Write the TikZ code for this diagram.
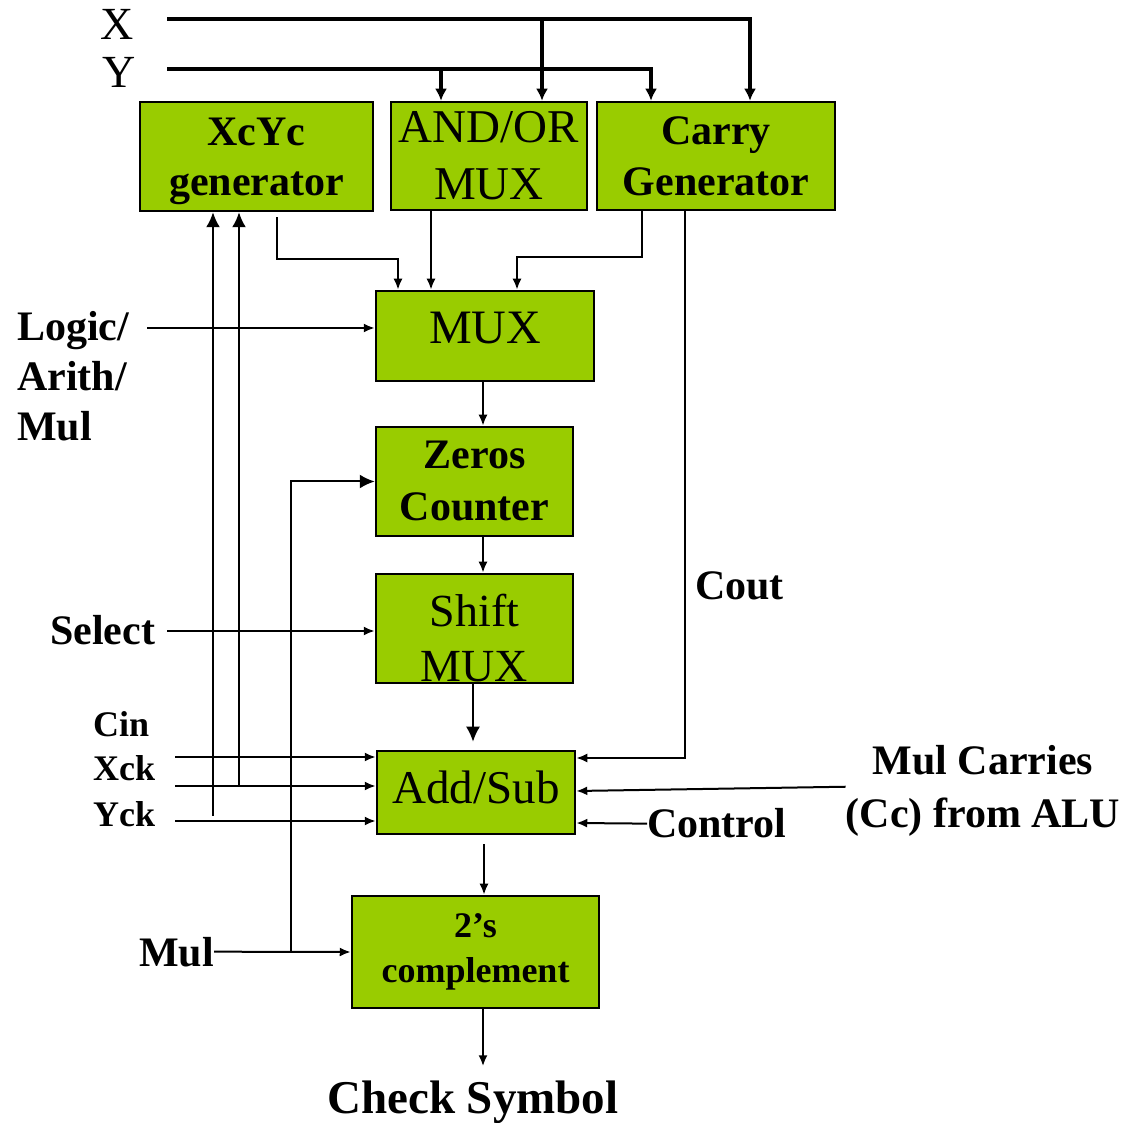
\documentclass[tikz,border=0pt]{standalone}
\usepackage{fontspec}
\setmainfont{Liberation Serif}
\usetikzlibrary{arrows.meta}
\usepackage{xcolor}
\definecolor{blockgreen}{RGB}{153,204,0}

\tikzset{
  block/.style={draw=black, line width=2.5pt, fill=blockgreen, inner sep=0pt, align=center},
  wire/.style={line width=2pt, -{Latex[length=11pt,width=9pt]}},
  bigwire/.style={line width=2pt, -{Latex[length=15pt,width=14pt]}},
  bus/.style={line width=4pt, -{Latex[length=12pt,width=12pt]}},
  lbl/.style={font=\fontsize{42}{50}\selectfont\bfseries, inner sep=0pt},
}

\begin{document}
\begin{tikzpicture}[x=1pt,y=1pt]
  \useasboundingbox (0,0) rectangle (1132,1122);
  % top row
  \node[block, minimum width=233pt, minimum height=109pt, font=\fontsize{42}{50}\selectfont\bfseries, text depth=0pt] (xcyc) at (256.5,965.5) {XcYc\\generator};
  \node[block, minimum width=196pt, minimum height=108pt, font=\fontsize{47}{57}\selectfont] (andor) at (489,966) {AND/OR\\MUX};
  \node[block, minimum width=238pt, minimum height=108pt, font=\fontsize{42}{51}\selectfont\bfseries] (carry) at (716,966) {Carry\\Generator};
  % middle column
  \node[block, minimum width=218pt, minimum height=90pt, font=\fontsize{48}{57}\selectfont, text depth=16pt] (mux) at (485,786) {MUX};
  \node[block, minimum width=197pt, minimum height=109pt, font=\fontsize{42}{52}\selectfont\bfseries] (zeros) at (474.5,640.5) {Zeros\\Counter};
  \node[block, minimum width=197pt, minimum height=109pt] (shift) at (474.5,493.5) {};
  \node[font=\fontsize{46}{55}\selectfont, align=center, inner sep=0pt] (shifttext) at ([yshift=-10pt]shift.center) {Shift\\MUX};
  \node[block, minimum width=198pt, minimum height=83pt, font=\fontsize{47}{57}\selectfont, text depth=10pt] (addsub) at (476,329.5) {Add/Sub};
  \node[block, minimum width=247pt, minimum height=112pt, font=\fontsize{36}{45}\selectfont\bfseries] (twos) at (475.5,170) {2’s\\complement};

  % labels
  \node[font=\fontsize{46}{46}\selectfont, anchor=base west, inner sep=0pt] (xlbl) at (100,1082) {X};
  \node[font=\fontsize{46}{46}\selectfont, anchor=base west, inner sep=0pt] (ylbl) at (102,1034) {Y};
  \node[lbl, anchor=north west, align=left] (logic) at (17,811) {Logic/\\Arith/\\Mul};
  \node[lbl, anchor=base west] (select) at (50,477) {Select};
  \node[lbl, font=\fontsize{36}{36}\selectfont\bfseries, anchor=base west] (cin) at (93,385) {Cin};
  \node[lbl, font=\fontsize{36}{36}\selectfont\bfseries, anchor=base west] (xck) at (93,341) {Xck};
  \node[lbl, font=\fontsize{36}{36}\selectfont\bfseries, anchor=base west] (yck) at (93,295) {Yck};
  \node[lbl, anchor=base west] (mul) at (139,156) {Mul};
  \node[lbl, anchor=base west] (cout) at (695,522) {Cout};
  \node[lbl, anchor=north, align=center, font=\fontsize{42}{53}\selectfont\bfseries] (mulcarries) at (983,377) {Mul Carries\\(Cc) from ALU};
  \node[lbl, anchor=base west] (control) at (647,284) {Control};
  \node[lbl, font=\fontsize{47}{47}\selectfont\bfseries, anchor=base west] (check) at (327,9) {Check Symbol};

  % free line ends
  \coordinate (xin) at (167,1103);
  \coordinate (yin) at (167,1053);
  \coordinate (logicin) at (147,794);
  \coordinate (selin) at (167,491);
  \coordinate (cinin) at (175,365);
  \coordinate (xckin) at (175,336);
  \coordinate (yckin) at (175,301);
  \coordinate (yckup) at (213,306);

  % X and Y buses
  \draw[bus] (xin) -| ([xshift=34pt]carry.north);
  \draw[bus] (542,1103) -- ([xshift=53pt]andor.north);
  \draw[bus] (yin) -| ([xshift=-65pt]carry.north);
  \draw[bus] (441,1053) -- ([xshift=-48pt]andor.north);

  % into the MUX
  \draw[wire] ([xshift=20.5pt,yshift=-5pt]xcyc.south) |- ([xshift=-87pt,yshift=31pt]mux.north) -- ([xshift=-87pt]mux.north);
  \draw[wire] ([xshift=-58pt]andor.south) -- ([xshift=-54pt]mux.north);
  \draw[wire] ([xshift=-74pt]carry.south) |- ([xshift=32pt,yshift=33pt]mux.north) -- ([xshift=32pt]mux.north);
  \draw[wire] (logicin) -- ([yshift=8pt]mux.west);

  % down the middle
  \draw[wire] ([xshift=-2pt]mux.south) -- ([xshift=8.5pt]zeros.north);
  \draw[wire] ([xshift=8.5pt]zeros.south) -- ([xshift=8.5pt]shift.north);
  \draw[bigwire] ([xshift=-1.5pt]shift.south) -- ([xshift=-3pt,yshift=8pt]addsub.north);
  \draw[wire] ([xshift=8pt,yshift=-9pt]addsub.south) -- ([xshift=8.5pt]twos.north);
  \draw[wire] ([xshift=7.5pt]twos.south) -- ++(0,-57);

  % right side inputs
  \draw[wire] ([xshift=-31pt]carry.south) |- ([yshift=34.5pt]addsub.east);
  \draw[wire] ([yshift=4pt]mulcarries.west) -- ([yshift=1.5pt]addsub.east);
  \draw[wire] (control.west) -- ([yshift=-30.5pt]addsub.east);

  % left side inputs
  \draw[wire] (selin) -- ([yshift=-2.5pt]shift.west);
  \draw[wire] (cinin) -- ([yshift=35.5pt]addsub.west);
  \draw[wire] (xckin) -- ([yshift=6.5pt]addsub.west);
  \draw[wire] (yckin) -- ([yshift=-28.5pt]addsub.west);
  \draw[bigwire] ([xshift=64pt]xckin) -- ([xshift=-17.5pt]xcyc.south);
  \draw[bigwire] (yckup) -- ([xshift=-43.5pt]xcyc.south);
  \draw[wire] (mul.east) -- (twos.west);
  \draw[bigwire] ([xshift=77pt]mul.east) |- (zeros.west);
\end{tikzpicture}
\end{document}
